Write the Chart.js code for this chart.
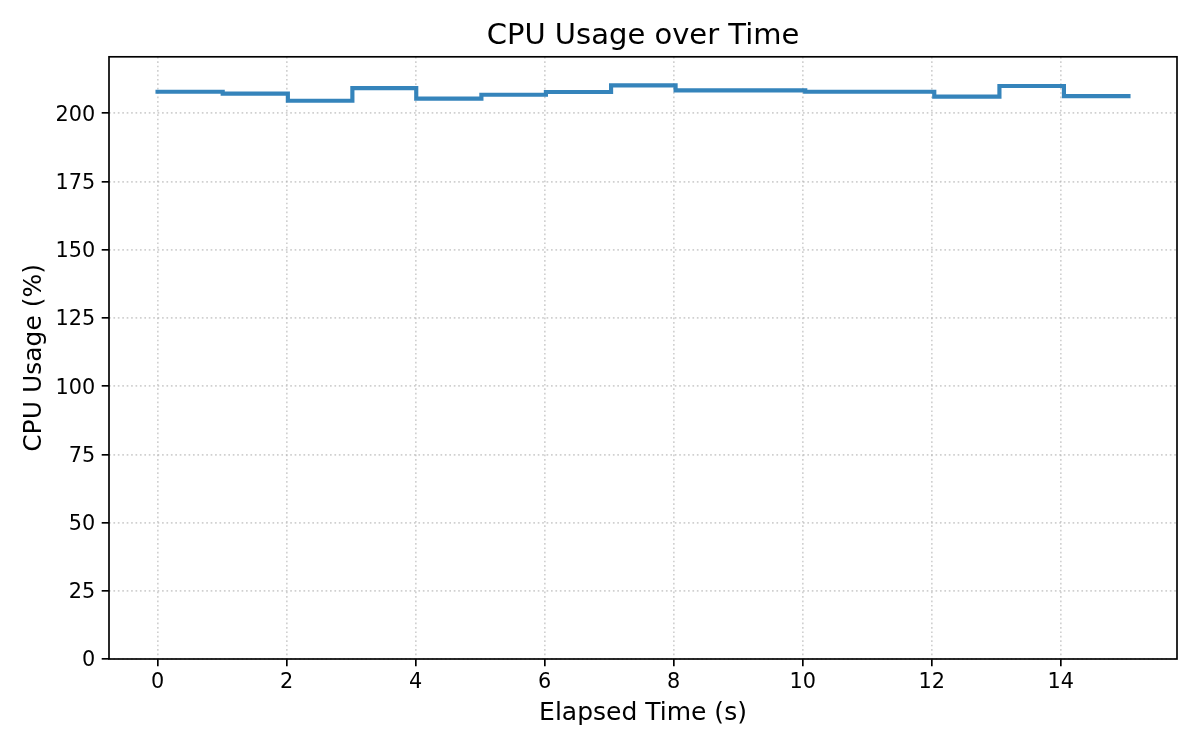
<!DOCTYPE html>
<html>
<head>
<meta charset="utf-8">
<script src="https://cdn.jsdelivr.net/npm/chart.js@4.4.1/dist/chart.umd.min.js"></script>
<style>
  html, body { margin: 0; padding: 0; background: #ffffff; }
  #wrap { width: 1200px; height: 750px; }
</style>
</head>
<body>
<div id="wrap"><canvas id="c" width="1200" height="750"></canvas></div>
<script>
// ---- data ----
const elapsedTime = [0, 1.01, 2.02, 3.02, 4.01, 5.02, 6.02, 7.03, 8.03, 10.04, 12.04, 13.05, 14.05, 15.05];
const cpuUsage    = [207.9, 207.2, 204.6, 209.2, 205.4, 206.8, 207.8, 210.2, 208.4, 207.9, 206.1, 210.0, 206.3, 206.3];
const xTickValues = [0, 2, 4, 6, 8, 10, 12, 14];
const yTickValues = [0, 25, 50, 75, 100, 125, 150, 175, 200];
const titleText = 'CPU Usage over Time';
const xLabel = 'Elapsed Time (s)';
const yLabel = 'CPU Usage (%)';

const xMin = -0.7525, xMax = 15.8025;
const yMin = 0, yMax = 220.7;

const FONT = '"DejaVu Sans", "Liberation Sans", sans-serif';
const GRID = 'rgba(176,176,176,0.6)';

const frame = {
  id: 'frame',
  afterDraw(chart) {
    const a = chart.chartArea, ctx = chart.ctx;
    ctx.save();
    ctx.strokeStyle = '#000';
    ctx.lineWidth = 1.67;
    ctx.strokeRect(a.left, a.top, a.right - a.left, a.bottom - a.top);
    ctx.restore();
  }
};

new Chart(document.getElementById('c'), {
  type: 'line',
  data: {
    datasets: [{
      label: 'CPU Usage',
      data: elapsedTime.map((t, i) => ({ x: t, y: cpuUsage[i] })),
      stepped: 'before',
      borderColor: 'rgba(31,119,180,0.9)',
      borderWidth: 4.17,
      borderCapStyle: 'square',
      borderJoinStyle: 'miter',
      pointRadius: 0,
      fill: false,
      tension: 0
    }]
  },
  options: {
    responsive: false,
    animation: false,
    devicePixelRatio: 1,
    layout: { padding: { left: 0, right: 23, top: 0, bottom: 0 } },
    plugins: {
      legend: { display: false },
      tooltip: { enabled: false },
      title: {
        display: true,
        text: titleText,
        fullSize: false,
        color: '#000',
        font: { family: FONT, size: 29, weight: 'normal', lineHeight: 1.2 },
        padding: { top: 19, bottom: 3 }
      }
    },
    scales: {
      x: {
        type: 'linear',
        min: xMin,
        max: xMax,
        afterBuildTicks: s => { s.ticks = xTickValues.map(v => ({ value: v })); },
        afterFit: s => { s.height = 91; },
        ticks: {
          color: '#000',
          font: { family: FONT, size: 20.8 },
          padding: 4,
          maxRotation: 0,
          autoSkip: false,
          callback: v => String(v)
        },
        grid: {
          color: GRID,
          lineWidth: 1.67,
          drawTicks: true,
          tickLength: 7.3,
          tickColor: '#000',
          tickWidth: 1.67,
          tickBorderDash: []
        },
        border: { display: false, dash: [1.67, 2.75] },
        title: {
          display: true,
          text: xLabel,
          color: '#000',
          font: { family: FONT, size: 25, lineHeight: 1.2 },
          padding: { top: 0, bottom: 22 }
        }
      },
      y: {
        type: 'linear',
        min: yMin,
        max: yMax,
        afterBuildTicks: s => { s.ticks = yTickValues.map(v => ({ value: v })); },
        afterFit: s => { s.width = 109; },
        ticks: {
          color: '#000',
          font: { family: FONT, size: 20.8 },
          padding: 6.4,
          labelOffset: 2,
          autoSkip: false,
          callback: v => String(v)
        },
        grid: {
          color: GRID,
          lineWidth: 1.67,
          drawTicks: true,
          tickLength: 7.3,
          tickColor: '#000',
          tickWidth: 1.67,
          tickBorderDash: []
        },
        border: { display: false, dash: [1.67, 2.75] },
        title: {
          display: true,
          text: yLabel,
          color: '#000',
          font: { family: FONT, size: 25, lineHeight: 1.2 },
          padding: { top: 19.7, bottom: 0 }
        }
      }
    }
  },
  plugins: [frame]
});
</script>
</body>
</html>
